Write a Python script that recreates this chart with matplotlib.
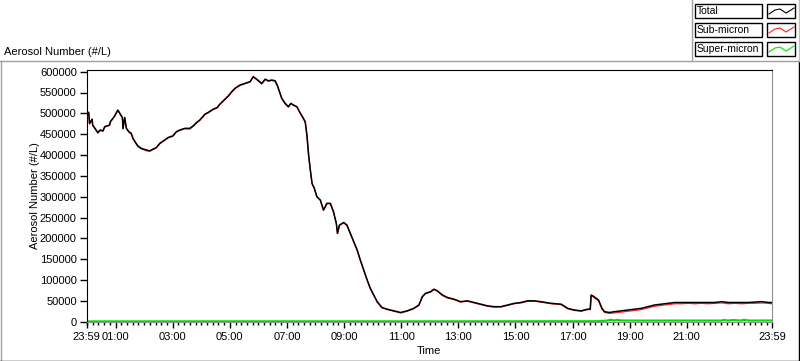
import matplotlib
matplotlib.use("Agg")
import matplotlib.pyplot as plt
import matplotlib.ticker as mticker
from matplotlib.patches import Rectangle

plt.rcParams['font.family'] = ['Liberation Sans', 'DejaVu Sans']
plt.rcParams['font.size'] = 8

# time of day in hours (23:59 of previous day = -0.02)
hours = [-0.02, 0.06, 0.09, 0.18, 0.20, 0.32, 0.38, 0.46, 0.56, 0.62,
         0.79, 0.82, 0.97, 1.08, 1.17, 1.24, 1.26, 1.32, 1.38, 1.47,
         1.55, 1.61, 1.70, 1.78, 1.90, 2.08, 2.20, 2.31, 2.43, 2.55,
         2.72, 2.84, 3.01, 3.13, 3.25, 3.43, 3.60, 3.72, 3.84, 3.95,
         4.13, 4.24, 4.42, 4.56, 4.65, 4.77, 4.95, 5.07, 5.18, 5.36,
         5.53, 5.71, 5.82, 5.94, 6.12, 6.24, 6.35, 6.47, 6.59, 6.67,
         6.76, 6.82, 6.94, 7.05, 7.14, 7.23, 7.35, 7.44, 7.56, 7.64,
         7.70, 7.76, 7.82, 7.88, 7.96, 8.05, 8.17, 8.28, 8.40, 8.52,
         8.63, 8.73, 8.77, 8.84, 8.99, 9.10, 9.22, 9.34, 9.46, 9.57,
         9.69, 9.81, 9.92, 10.04, 10.16, 10.33, 10.51, 10.74, 10.98, 11.21,
         11.44, 11.62, 11.74, 11.85, 12.03, 12.15, 12.27, 12.44, 12.62, 12.85,
         13.08, 13.32, 13.55, 13.79, 14.02, 14.25, 14.49, 14.72, 14.96, 15.19,
         15.43, 15.66, 15.89, 16.25, 16.60, 16.83, 17.06, 17.30, 17.53, 17.62,
         17.65, 17.71, 17.83, 17.91, 17.98, 18.03, 18.12, 18.29, 18.47, 18.70,
         18.94, 19.17, 19.41, 19.64, 19.87, 20.11, 20.34, 20.58, 20.81, 21.05,
         21.28, 21.51, 21.75, 21.98, 22.22, 22.45, 22.68, 22.92, 23.15, 23.39,
         23.62, 23.86, 23.98]

# counts in thousands per litre
total_k = [504, 502, 476, 486, 472, 460, 454, 460, 458, 468,
           472, 480, 494, 508, 498, 490, 464, 490, 464, 456,
           452, 440, 430, 422, 416, 412, 410, 414, 418, 428,
           436, 442, 446, 456, 460, 464, 464, 470, 478, 484,
           498, 502, 510, 514, 522, 530, 542, 552, 560, 568,
           572, 576, 588, 582, 572, 582, 578, 580, 578, 566,
           548, 536, 524, 516, 524, 520, 516, 504, 490, 480,
           448, 400, 364, 332, 320, 300, 292, 268, 284, 284,
           264, 236, 212, 232, 238, 232, 212, 192, 172, 148,
           124, 100, 80, 64, 48, 34, 30, 26, 22, 26,
           32, 40, 60, 68, 72, 78, 74, 64, 58, 54,
           48, 50, 46, 42, 38, 36, 36, 40, 44, 46,
           50, 50, 48, 44, 42, 32, 28, 26, 30, 30,
           64, 62, 56, 52, 40, 32, 24, 22, 24, 26,
           28, 30, 32, 36, 40, 42, 44, 46, 46, 46,
           46, 46, 46, 46, 48, 46, 46, 46, 46, 47,
           48, 46, 46]

sub_k = [503, 501, 474, 485, 470, 459, 452, 459, 457, 467,
         471, 479, 493, 507, 497, 489, 462, 489, 463, 454,
         451, 439, 429, 420, 415, 410, 409, 413, 417, 427,
         435, 441, 445, 455, 459, 463, 462, 469, 477, 483,
         497, 501, 509, 513, 521, 529, 541, 551, 559, 567,
         571, 575, 587, 581, 570, 581, 577, 579, 577, 565,
         547, 535, 522, 515, 523, 519, 515, 503, 489, 479,
         447, 399, 363, 331, 319, 299, 291, 267, 283, 283,
         263, 235, 211, 231, 237, 231, 211, 191, 171, 147,
         123, 99, 79, 63, 47, 33, 29, 25, 21, 25,
         31, 39, 59, 67, 71, 77, 73, 63, 57, 53,
         47, 49, 45, 41, 37, 35, 35, 39, 43, 45,
         49, 49, 47, 43, 41, 31, 27, 25, 29, 29,
         62, 60, 54, 50, 38, 30, 22, 20, 21, 23,
         25, 27, 29, 33, 37, 39, 41, 43, 43, 44,
         43, 44, 43, 44, 45, 43, 44, 43, 44, 44,
         45, 44, 43]

super_hours = [-0.02, 6.0, 12.0, 17.9, 18.2, 18.35, 18.45, 18.55, 18.7, 19.5,
               21.0, 22.2, 22.3, 22.45, 22.6, 22.9, 23.0, 23.2, 23.98]
super_k = [0.6, 0.8, 0.7, 1.0, 2.6, 4.5, 2.6, 4.2, 2.8, 2.5,
           2.6, 2.6, 4.0, 2.6, 3.8, 2.7, 4.4, 2.6, 2.8]

tick_hours = [-1/60, 1, 3, 5, 7, 9, 11, 13, 15, 17, 19, 21, 23.983]
tick_labels = ["23:59", "01:00", "03:00", "05:00", "07:00", "09:00", "11:00",
               "13:00", "15:00", "17:00", "19:00", "21:00", "23:59"]
legend_names = ["Total", "Sub-micron", "Super-micron"]
legend_colors = ["black", "#ff2020", "#00e000"]

fig = plt.figure(figsize=(8.0, 3.61), dpi=100)

# pixel overlay for the panel frame, title and legend
ov = fig.add_axes([0, 0, 1, 1])
ov.set_xlim(0, 800)
ov.set_ylim(361, 0)
ov.axis("off")
ov.plot([0, 800], [61, 61], color="#a0a0a0", lw=1)
ov.plot([0.5, 0.5], [61, 361], color="#a0a0a0", lw=1)
ov.plot([798.5, 798.5], [61, 360.5], color="black", lw=1)
ov.plot([0, 799], [360.5, 360.5], color="black", lw=1)
ov.plot([692, 692], [0, 61], color="#a0a0a0", lw=1)
ov.plot([798.5, 798.5], [0, 61], color="#c0c0c0", lw=1)
ov.text(4, 52, "Aerosol Number (#/L)", fontsize=8, va="center", ha="left")

row_top = [4, 23, 42]
for name, col, y0 in zip(legend_names, legend_colors, row_top):
    ov.add_patch(Rectangle((695, y0), 67, 13.5, fill=False, ec="black", lw=1))
    ov.add_patch(Rectangle((767, y0), 28, 13.5, fill=False, ec="black", lw=1))
    ov.text(697, y0 + 7, name, fontsize=7.5, va="center", ha="left")
    ov.plot([769, 775, 780, 786, 791, 794],
            [y0 + 10, y0 + 6, y0 + 5, y0 + 9, y0 + 6, y0 + 4],
            color=col, lw=0.8)

ax = fig.add_axes([86.5 / 800, 39 / 361, 685.5 / 800, 252 / 361])
ax.plot(hours, [v * 1000 for v in sub_k], color=legend_colors[1], lw=0.9)
ax.plot(hours, [v * 1000 for v in total_k], color="black", lw=1.1)
ax.plot(super_hours, [v * 1000 for v in super_k], color=legend_colors[2], lw=1.6)

ax.set_xlim(-1 / 60, 23.983)
ax.set_ylim(-800, 604000)
ax.yaxis.set_major_locator(mticker.MultipleLocator(50000))
ax.yaxis.set_major_formatter(mticker.FuncFormatter(lambda v, p: f"{int(v)}"))
ax.set_xticks(tick_hours)
ax.set_xticklabels(tick_labels)
ax.xaxis.set_minor_locator(mticker.MultipleLocator(0.2))

ax.tick_params(axis="y", direction="out", length=5, width=1, pad=2, labelsize=8)
ax.tick_params(axis="x", which="major", direction="out", length=4, width=1, pad=3, labelsize=8)
ax.tick_params(axis="x", which="minor", direction="out", length=2.5, width=1)

for side in ["left", "top"]:
    ax.spines[side].set_color("black")
for side in ["right", "bottom"]:
    ax.spines[side].set_color("#909090")

ax.set_ylabel("Aerosol Number (#/L)", fontsize=8)
ax.yaxis.set_label_coords(-0.068, 0.5)
ax.set_xlabel("Time", fontsize=8)
ax.xaxis.set_label_coords(0.5, -0.095)

fig.savefig("out.png", dpi=100)
